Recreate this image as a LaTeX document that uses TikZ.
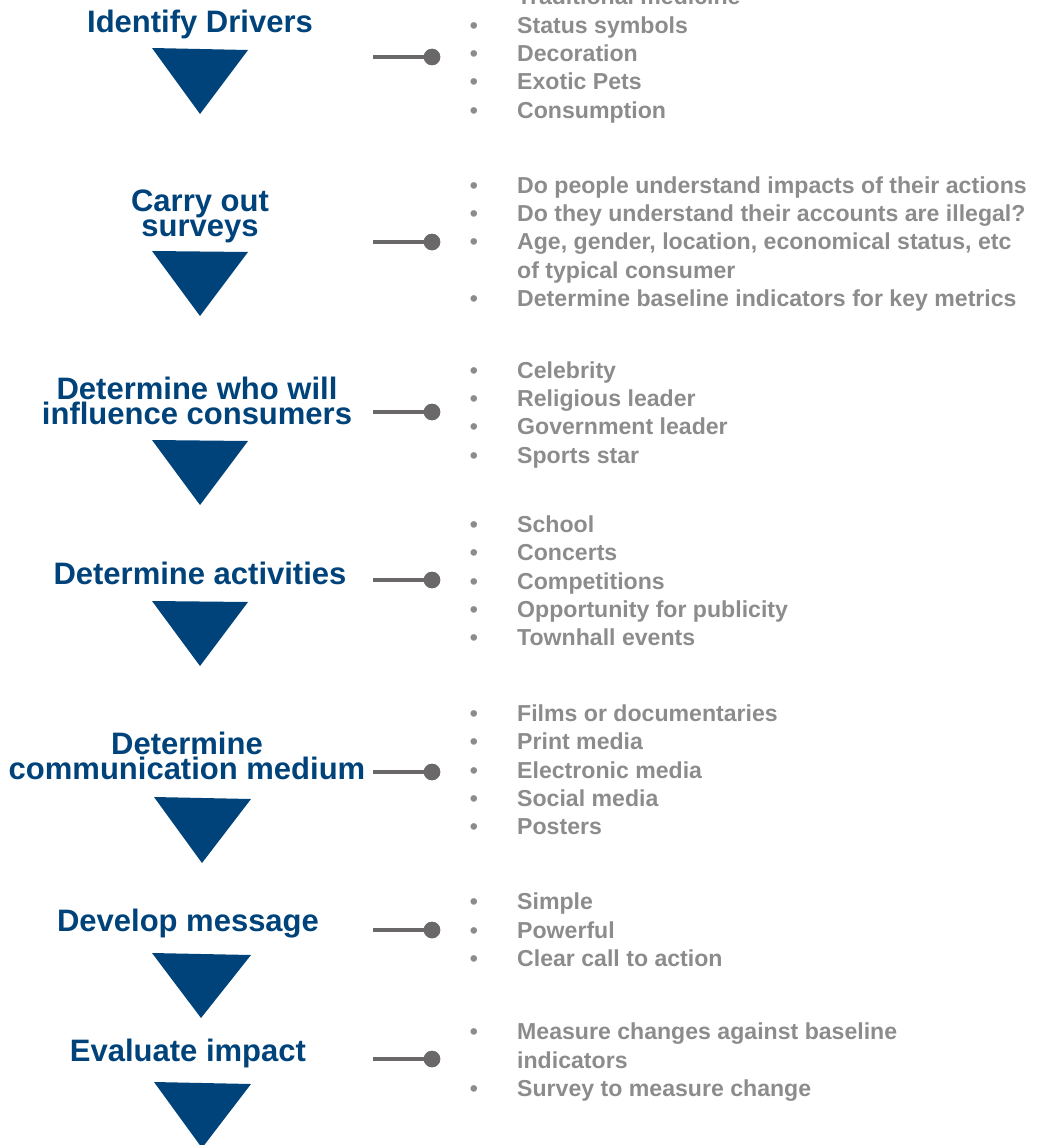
\documentclass[tikz,border=0pt]{standalone}
\usepackage{fontspec}
\setmainfont{Liberation Sans}
\definecolor{tblue}{HTML}{00437A}
\definecolor{bgray}{HTML}{8C8C8C}
\definecolor{cgray}{HTML}{6B6869}
\tikzset{
  title/.style={anchor=base, align=center, text=tblue, inner sep=0pt, font=\fontsize{31}{25}\selectfont\bfseries},
  btxt/.style={anchor=base west, text=bgray, inner sep=0pt, font=\fontsize{23.1}{28}\selectfont\bfseries},
  bdot/.style={anchor=base, text=bgray, inner sep=0pt, font=\fontsize{23}{28}\selectfont\bfseries},
  conn/.style={draw=cgray, line width=4.5pt},
  knob/.style={circle, fill=cgray, minimum size=16.5pt, inner sep=0pt},
  tri/.style={fill=tblue}
}
\newcommand{\bitem}[3]{\node[bdot] (#1d) at (474,#2) {\textbullet}; \node[btxt] (#1) at (517,#2) {#3};}
\newcommand{\bcont}[3]{\node[btxt] (#1) at (517,#2) {#3};}
\begin{document}
\begin{tikzpicture}[x=1pt,y=-1pt]
\useasboundingbox (0,0) rectangle (1049,1145);
% titles (anchor = baseline of last line)
\node[title] (t1) at (200,33) {Identify Drivers};
\node[title] (t2) at (200,236) {Carry out\\surveys};
\node[title] (t3) at (197,424) {Determine who will\\influence consumers};
\node[title] (t4) at (200,584) {Determine activities};
\node[title] (t5) at (187,779) {Determine\\communication medium};
\node[title] (t6) at (188,931) {Develop message};
\node[title] (t7) at (188,1061) {Evaluate impact};
% triangles
\fill[tri] (152,48) -- (248,50) -- (200,114) -- cycle;
\fill[tri] (152,251) -- (248,252) -- (200,316) -- cycle;
\fill[tri] (152,440) -- (248,441) -- (200,505) -- cycle;
\fill[tri] (152,601) -- (248,602) -- (200,666) -- cycle;
\fill[tri] (154,797) -- (251,799) -- (202,863) -- cycle;
\fill[tri] (152,953) -- (251,955) -- (201,1018) -- cycle;
\fill[tri] (154,1082) -- (251,1084) -- (202,1148) -- cycle;
% connectors
\foreach \i/\y in {1/57,2/242,3/412,4/580,5/772,6/930,7/1059}{
  \coordinate (s\i) at (373,\y);
  \node[knob] (k\i) at (432,\y) {};
  \draw[conn] (s\i) -- (k\i.center);
  \node[knob] at (k\i.center) {};
}
% group 1
\bitem{a1}{5}{Traditional medicine}
\bitem{a2}{34}{Status symbols}
\bitem{a3}{62}{Decoration}
\bitem{a4}{90}{Exotic Pets}
\bitem{a5}{119}{Consumption}
% group 2
\bitem{b1}{193}{Do people understand impacts of their actions}
\bitem{b2}{221}{Do they understand their accounts are illegal?}
\bitem{b3}{249}{Age, gender, location, economical status, etc}
\bcont{b4}{278}{of typical consumer}
\bitem{b5}{306}{Determine baseline indicators for key metrics}
% group 3
\bitem{c1}{378}{Celebrity}
\bitem{c2}{406}{Religious leader}
\bitem{c3}{434}{Government leader}
\bitem{c4}{463}{Sports star}
% group 4
\bitem{d1}{532}{School}
\bitem{d2}{560}{Concerts}
\bitem{d3}{589}{Competitions}
\bitem{d4}{617}{Opportunity for publicity}
\bitem{d5}{645}{Townhall events}
% group 5
\bitem{e1}{721}{Films or documentaries}
\bitem{e2}{749}{Print media}
\bitem{e3}{778}{Electronic media}
\bitem{e4}{806}{Social media}
\bitem{e5}{834}{Posters}
% group 6
\bitem{f1}{909}{Simple}
\bitem{f2}{938}{Powerful}
\bitem{f3}{966}{Clear call to action}
% group 7
\bitem{g1}{1039}{Measure changes against baseline}
\bcont{g2}{1068}{indicators}
\bitem{g3}{1096}{Survey to measure change}
\end{tikzpicture}
\end{document}
